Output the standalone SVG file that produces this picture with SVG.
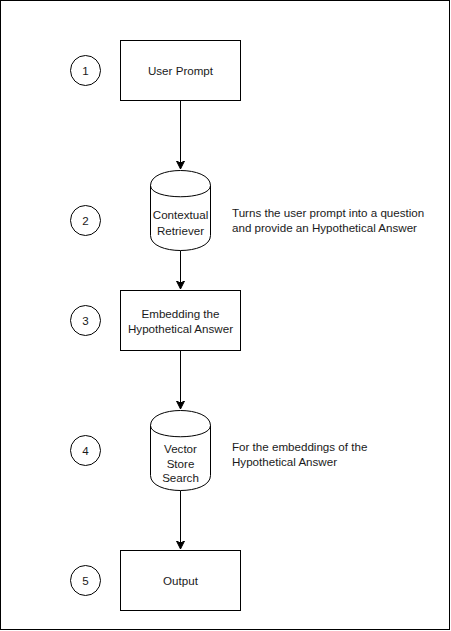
<svg xmlns="http://www.w3.org/2000/svg" width="451" height="631" viewBox="0 0 451 631">
<style>
.shape{fill:#fff;stroke:#000;stroke-width:1}
.line{fill:none;stroke:#000;stroke-width:1}
text{font-family:"Liberation Sans",Arial,Helvetica,sans-serif;font-size:11.6px;fill:#1a1a1a}
.c{text-anchor:middle}
</style>
<defs>
<marker id="arr" markerWidth="10" markerHeight="10" refX="8" refY="4" orient="auto" markerUnits="userSpaceOnUse">
<path d="M0,0 L8,4 L0,8 L2,4 Z" fill="#000" stroke="#000" stroke-width="1"/>
</marker>
</defs>
<rect x="0.5" y="0.5" width="449" height="629" fill="#fff" stroke="#000"/>
<g id="connectors">
<path class="line" d="M180.5,100.5 L180.5,169" marker-end="url(#arr)"/>
<path class="line" d="M180.5,250.5 L180.5,289" marker-end="url(#arr)"/>
<path class="line" d="M180.5,350.5 L180.5,409" marker-end="url(#arr)"/>
<path class="line" d="M180.5,490.5 L180.5,549" marker-end="url(#arr)"/>
</g>
<g id="step1">
<circle class="shape" cx="85.5" cy="70.5" r="15"/>
<text class="c" x="85.5" y="74.5">1</text>
</g>
<g id="step2">
<circle class="shape" cx="85.5" cy="220.5" r="15"/>
<text class="c" x="85.5" y="224.5">2</text>
</g>
<g id="step3">
<circle class="shape" cx="85.5" cy="320.5" r="15"/>
<text class="c" x="85.5" y="324.5">3</text>
</g>
<g id="step4">
<circle class="shape" cx="85.5" cy="450.5" r="15"/>
<text class="c" x="85.5" y="454.5">4</text>
</g>
<g id="step5">
<circle class="shape" cx="85.5" cy="580.5" r="15"/>
<text class="c" x="85.5" y="584.5">5</text>
</g>
<g id="user-prompt">
<rect class="shape" x="120.5" y="40.5" width="120" height="60"/>
<text class="c" x="180.5" y="74.5">User Prompt</text>
</g>
<g id="contextual-retriever">
<path class="shape" d="M150.5,185.5 C150.5,165.5 210.5,165.5 210.5,185.5 L210.5,235.5 C210.5,255.5 150.5,255.5 150.5,235.5 Z"/>
<path class="line" d="M150.5,185.5 C150.5,200.5 210.5,200.5 210.5,185.5"/>
<text class="c" x="180.5" y="219">Contextual</text>
<text class="c" x="180.5" y="234.5">Retriever</text>
</g>
<g id="note-retriever">
<text x="232" y="217">Turns the user prompt into a question</text>
<text x="232" y="232">and provide an Hypothetical Answer</text>
</g>
<g id="embedding">
<rect class="shape" x="120.5" y="290.5" width="120" height="60"/>
<text class="c" x="180.5" y="317.5">Embedding the</text>
<text class="c" x="180.5" y="332.5">Hypothetical Answer</text>
</g>
<g id="vector-store-search">
<path class="shape" d="M150.5,425.5 C150.5,405.5 210.5,405.5 210.5,425.5 L210.5,475.5 C210.5,495.5 150.5,495.5 150.5,475.5 Z"/>
<path class="line" d="M150.5,425.5 C150.5,440.5 210.5,440.5 210.5,425.5"/>
<text class="c" x="180.5" y="453">Vector</text>
<text class="c" x="180.5" y="467.5">Store</text>
<text class="c" x="180.5" y="482">Search</text>
</g>
<g id="note-vector">
<text x="232" y="451">For the embeddings of the</text>
<text x="232" y="466">Hypothetical Answer</text>
</g>
<g id="output">
<rect class="shape" x="120.5" y="550.5" width="120" height="60"/>
<text class="c" x="180.5" y="584.5">Output</text>
</g>
</svg>
